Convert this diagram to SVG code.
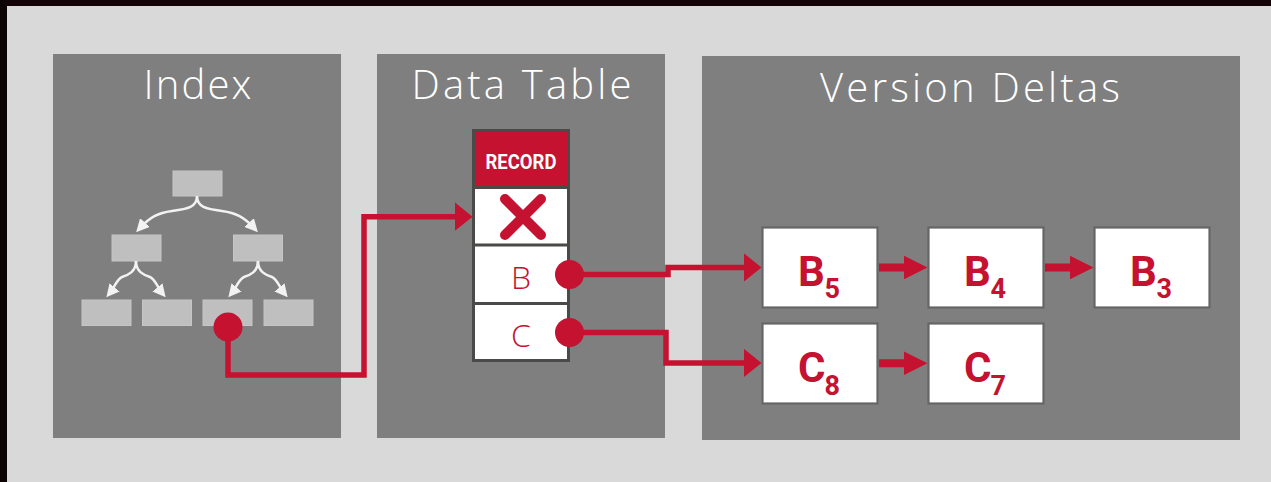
<svg xmlns="http://www.w3.org/2000/svg" width="1271" height="482" viewBox="0 0 1271 482">
<style>
.panel{fill:#7f7f7f}
.title{fill:#ffffff;font-family:"Open Sans","Noto Sans",sans-serif;font-weight:300;font-size:40px;text-anchor:middle}
.tbox{fill:#bfbfbf;stroke:#c6c6c6;stroke-width:1}
.tarrow{fill:none;stroke:#f2f2f2;stroke-width:2.5}
.red{fill:#c41230}
.conn{fill:none;stroke:#c41230;stroke-width:5.5}
.big{fill:none;stroke:#c41230;stroke-width:8}
.cell{fill:#ffffff;stroke:#4a4a48;stroke-width:3}
.div{stroke:#4a4a48;stroke-width:3}
.field{fill:#c41230;font-family:"Open Sans","Noto Sans",sans-serif;font-weight:300;font-size:32px;text-anchor:middle}
.dbox{fill:#ffffff;stroke:#666666;stroke-width:2.2}
.dlabel{fill:#c41230;font-family:Roboto,"Liberation Sans",sans-serif;font-weight:700;font-size:42px}
.sub{font-size:27px}
</style>
<defs>
<marker id="wh" markerUnits="userSpaceOnUse" markerWidth="13" markerHeight="13" viewBox="0 0 13 13" refX="8" refY="6.5" orient="auto"><path d="M0,0 L13,6.5 L0,13 z" fill="#f2f2f2"/></marker>
<marker id="ra" markerUnits="userSpaceOnUse" markerWidth="18" markerHeight="29" viewBox="0 0 18 29" refX="10" refY="14.5" orient="auto"><path d="M0,0 L18,14.5 L0,29 z" fill="#c41230"/></marker>
<marker id="rb" markerUnits="userSpaceOnUse" markerWidth="24" markerHeight="24" viewBox="0 0 24 24" refX="12" refY="12" orient="auto"><path d="M0,0 L24,12 L0,24 z" fill="#c41230"/></marker>
</defs>
<rect x="0" y="0" width="1271" height="482" fill="#d9d9d9"/>
<rect x="0" y="0" width="1271" height="6" fill="#140306"/>
<rect x="0" y="0" width="7" height="482" fill="#0d0305"/>

<g id="index-panel">
<rect class="panel" x="53" y="54" width="288" height="384"/>
<text class="title" x="197.5" y="99" textLength="108" lengthAdjust="spacing">Index</text>
<rect class="tbox" x="173" y="171" width="49" height="25"/>
<rect class="tbox" x="112" y="235" width="49" height="26"/>
<rect class="tbox" x="233.5" y="235" width="49" height="26"/>
<rect class="tbox" x="82" y="300" width="49" height="25.5"/>
<rect class="tbox" x="142.5" y="300" width="49" height="25.5"/>
<rect class="tbox" x="203" y="300" width="49" height="25.5"/>
<rect class="tbox" x="264" y="300" width="49" height="25.5"/>
<path class="tarrow" marker-end="url(#wh)" d="M197,196 C197,207 188,209 172,211 C158,213 150,217 139.5,228.5"/>
<path class="tarrow" marker-end="url(#wh)" d="M197,196 C197,207 206,209 222,211 C236,213 244,217 254.5,228.5"/>
<path class="tarrow" marker-end="url(#wh)" d="M136,261 C136,272 128,275 122,277 C117,279 114,288 109.5,293.5"/>
<path class="tarrow" marker-end="url(#wh)" d="M136,261 C136,272 144,275 150,277 C155,279 158,288 162.5,293.5"/>
<path class="tarrow" marker-end="url(#wh)" d="M258,261 C258,272 250,275 244,277 C239,279 236,288 231.5,293.5"/>
<path class="tarrow" marker-end="url(#wh)" d="M258,261 C258,272 266,275 272,277 C277,279 280,288 284.5,293.5"/>
</g>

<g id="data-table-panel">
<rect class="panel" x="377" y="54" width="288" height="384"/>
<text class="title" x="521.5" y="98.7" textLength="220" lengthAdjust="spacing">Data Table</text>
</g>

<g id="version-deltas-panel">
<rect class="panel" x="702" y="56" width="538" height="384"/>
<text class="title" x="970" y="101.7" textLength="300" lengthAdjust="spacing">Version Deltas</text>
</g>

<g id="connectors">
<path class="conn" marker-end="url(#ra)" d="M228,327 V375 H364 V216.7 H464.5"/>
<path class="conn" marker-end="url(#ra)" d="M569.5,274.5 H668 V267.5 H753.5"/>
<path class="conn" marker-end="url(#ra)" d="M569.5,332.5 H666 V363 H753.5"/>
<path class="big" marker-end="url(#rb)" d="M879,267.5 H915.5"/>
<path class="big" marker-end="url(#rb)" d="M1045,267.5 H1081.5"/>
<path class="big" marker-end="url(#rb)" d="M879,363.3 H915.5"/>
</g>

<g id="record">
<rect class="cell" x="473.5" y="130.5" width="95" height="230"/>
<rect class="red" x="475" y="132" width="92" height="54.5"/>
<line class="div" x1="472" y1="187.5" x2="570" y2="187.5"/>
<line class="div" x1="472" y1="245" x2="570" y2="245"/>
<line class="div" x1="472" y1="303.5" x2="570" y2="303.5"/>
<text x="521" y="169" fill="#ffffff" font-family="Roboto, 'Liberation Sans', sans-serif" font-weight="700" font-size="20" text-anchor="middle" textLength="71" lengthAdjust="spacingAndGlyphs">RECORD</text>
<path d="M505,199 L541,235 M541,199 L505,235" stroke="#c41230" stroke-width="10" stroke-linecap="round" fill="none"/>
<text class="field" x="521" y="288.7">B</text>
<text class="field" x="521" y="346.5">C</text>
</g>

<g id="dots">
<circle class="red" cx="228" cy="327" r="14.5"/>
<circle class="red" cx="569.5" cy="274.5" r="14.5"/>
<circle class="red" cx="569.5" cy="332.5" r="14.5"/>
</g>

<g id="node-B5"><rect class="dbox" x="762.5" y="227.5" width="115" height="80"/><text class="dlabel"><tspan x="798" y="286">B</tspan><tspan class="sub" x="824.5" y="298.3">5</tspan></text></g>
<g id="node-B4"><rect class="dbox" x="928.5" y="227.5" width="115" height="80"/><text class="dlabel"><tspan x="964" y="286">B</tspan><tspan class="sub" x="990.5" y="298.3">4</tspan></text></g>
<g id="node-B3"><rect class="dbox" x="1094.5" y="227.5" width="115" height="80"/><text class="dlabel"><tspan x="1130" y="286">B</tspan><tspan class="sub" x="1156.5" y="298.3">3</tspan></text></g>
<g id="node-C8"><rect class="dbox" x="762.5" y="323.5" width="115" height="80"/><text class="dlabel"><tspan x="798" y="382">C</tspan><tspan class="sub" x="824.5" y="395">8</tspan></text></g>
<g id="node-C7"><rect class="dbox" x="928.5" y="323.5" width="115" height="80"/><text class="dlabel"><tspan x="964" y="382">C</tspan><tspan class="sub" x="990.5" y="395">7</tspan></text></g>
</svg>
